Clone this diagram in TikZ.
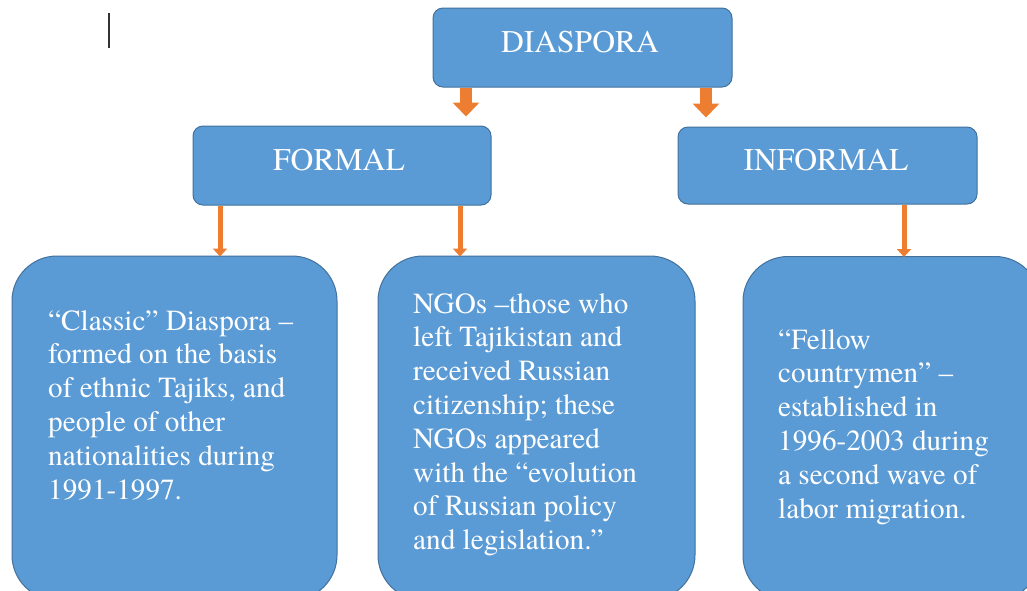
\documentclass[tikz,border=0pt]{standalone}
\usepackage{fontspec}
\setmainfont{texgyretermes}[Extension=.otf, UprightFont=*-regular, Ligatures=TeX]
\usetikzlibrary{arrows.meta,calc}
\definecolor{boxblue}{HTML}{5B9BD5}
\definecolor{boxedge}{HTML}{41719C}
\definecolor{arrorange}{HTML}{ED7D31}
\tikzset{
  box/.style={draw=boxedge, line width=1pt, fill=boxblue, rounded corners=10, inner sep=0pt},
  bigbox/.style={box, rounded corners=45},
  headtext/.style={text=white, font=\fontsize{31.6}{36}\selectfont, inner sep=0pt, anchor=base},
  bodytext/.style={text=white, font=\fontsize{29.2}{33.8}\selectfont, align=left, inner sep=0pt, anchor=north west},
  blockarrow/.style={draw=arrorange, line width=12pt, -{Triangle[width=26pt,length=14pt]}, shorten >=9pt},
  thinarrow/.style={draw=arrorange, line width=5pt, -{Triangle[width=14pt,length=8pt]}, shorten >=-1pt}
}
\begin{document}
\begin{tikzpicture}[x=1pt,y=-1pt]
\useasboundingbox (0,0) rectangle (1027,590);
\clip (0,0) rectangle (1027,590);
\fill[white] (0,0) rectangle (1027,590);
% cursor mark
\draw[line width=2pt, black!80] (108.5,13) -- (108.5,48);
% top level
\node[box, minimum width=299, minimum height=79] (d) at (582.5,47.5) {};
\node[headtext] (dt) at (580,52) {DIASPORA};
% second level
\node[box, minimum width=298, minimum height=79] (f) at (342,165.5) {};
\node[headtext] (ft) at (339,170) {FORMAL};
\node[box, minimum width=299, minimum height=77] (i) at (827.5,165.5) {};
\node[headtext] (it) at (826,170) {INFORMAL};
% third level
\node[bigbox, minimum width=325, minimum height=344] (b1) at (174.5,428) {};
\node[bigbox, minimum width=317, minimum height=344] (b2) at (536.5,428) {};
\node[bigbox, minimum width=297, minimum height=344] (b3) at (891.5,428.5) {};
\node[bodytext] (t1) at (48,310) {“Classic” Diaspora –\\formed on the basis\\of ethnic Tajiks, and\\people of other\\nationalities during\\1991-1997.};
\node[bodytext] (t2) at (413,293) {NGOs –those who\\left Tajikistan and\\received Russian\\citizenship; these\\NGOs appeared\\with the “evolution\\of Russian policy\\and legislation.”};
\node[bodytext] (t3) at (778,329) {“Fellow\\countrymen” –\\established in\\1996-2003 during\\a second wave of\\labor migration.};
% connectors
\coordinate (xa) at (466,0);
\coordinate (xb) at (706,0);
\coordinate (xc) at (220,0);
\coordinate (xd) at (460,0);
\coordinate (xe) at (904,0);
\draw[blockarrow] (xa |- d.south) -- (xa |- f.north);
\draw[blockarrow] (xb |- d.south) -- (xb |- i.north);
\draw[thinarrow] (xc |- f.south) -- (xc |- b1.north);
\draw[thinarrow] (xd |- f.south) -- (xd |- b2.north);
\draw[thinarrow] (xe |- i.south) -- (xe |- b3.north);
\end{tikzpicture}
\end{document}
